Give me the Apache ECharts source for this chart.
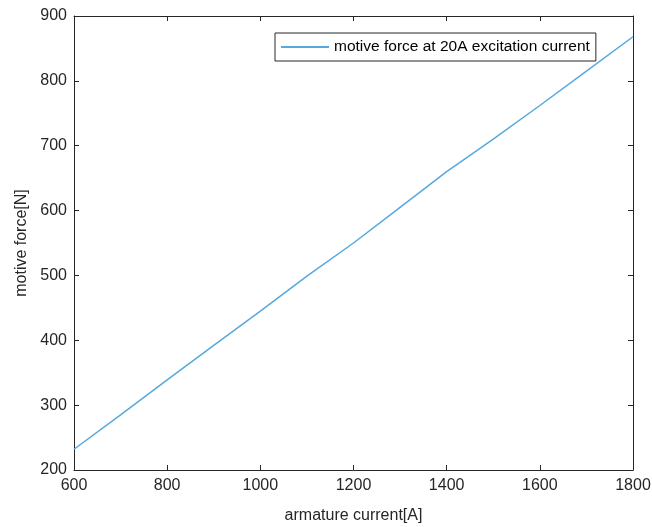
<!DOCTYPE html>
<html>
<head>
<meta charset="UTF-8">
<title>motive force</title>
<script src="https://cdn.jsdelivr.net/npm/echarts@6/dist/echarts.min.js"></script>
<style>
    body { margin: 0; padding: 0; background: #fff; }
    #app { width: 652px; height: 527px; }
</style>
</head>
<body>
<div id="app"></div>
<script>
    // armature current [A] and motive force [N]
    var current = [600, 700, 800, 900, 1000, 1100, 1200, 1300, 1400, 1500, 1600, 1700, 1800];
    var force = [232, 285, 339, 392, 445, 499, 550, 605, 660, 710, 762, 815, 868];
    var seriesName = 'motive force at 20A excitation current';

    var data = current.map(function (c, i) { return [c, force[i]]; });

    var axisColor = '#262626';
    var font = 'Liberation Sans, Arial, sans-serif';

    var chart = echarts.init(document.getElementById('app'));

    // a frame axis (top / right) with inward ticks and no labels
    function frame(type, pos, min, max, interval) {
        return {
            type: type, position: pos, min: min, max: max, interval: interval,
            axisLine: {show: true, onZero: false, lineStyle: {color: axisColor, width: 1}},
            axisTick: {show: true, inside: true, length: 5, lineStyle: {color: axisColor}},
            axisLabel: {show: false},
            splitLine: {show: false}
        };
    }

    function plain(v) { return String(v); }

    chart.setOption({
        animation: false,
        grid: {left: 74, right: 19, top: 16, bottom: 57, containLabel: false, outerBoundsMode: 'none'},
        legend: {
            data: [seriesName],
            left: 275, top: 33,
            orient: 'horizontal',
            icon: 'rect',
            itemWidth: 48, itemHeight: 2,
            itemGap: 4,
            padding: [6, 6, 6, 6],
            borderColor: '#262626', borderWidth: 1,
            backgroundColor: '#fff',
            textStyle: {fontFamily: font, fontSize: 15.5, color: '#000'}
        },
        xAxis: [{
            type: 'value', position: 'bottom', min: 600, max: 1800, interval: 200,
            name: 'armature current[A]', nameLocation: 'middle', nameGap: 38,
            nameTextStyle: {fontFamily: font, fontSize: 16, color: axisColor},
            axisLine: {show: true, onZero: false, lineStyle: {color: axisColor, width: 1}},
            axisTick: {show: true, inside: true, length: 5, lineStyle: {color: axisColor}},
            axisLabel: {fontFamily: font, fontSize: 16, color: axisColor, margin: 8, formatter: plain},
            splitLine: {show: false}
        }, frame('value', 'top', 600, 1800, 200)],
        yAxis: [{
            type: 'value', position: 'left', min: 200, max: 900, interval: 100,
            name: 'motive force[N]', nameLocation: 'middle', nameGap: 44,
            nameTextStyle: {fontFamily: font, fontSize: 16, color: axisColor},
            axisLine: {show: true, onZero: false, lineStyle: {color: axisColor, width: 1}},
            axisTick: {show: true, inside: true, length: 5, lineStyle: {color: axisColor}},
            axisLabel: {fontFamily: font, fontSize: 16, color: axisColor, margin: 7, formatter: plain},
            splitLine: {show: false}
        }, frame('value', 'right', 200, 900, 100)],
        series: [{
            name: seriesName,
            type: 'line',
            data: data,
            showSymbol: false,
            symbol: 'none',
            lineStyle: {color: '#56a8de', width: 1.5},
            itemStyle: {color: '#56a8de'}
        }]
    });
</script>
</body>
</html>
